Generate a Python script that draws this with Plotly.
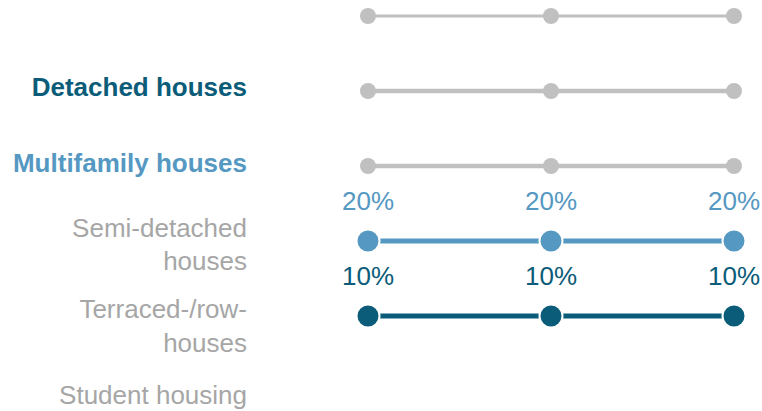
import plotly.graph_objects as go

# ---- data ----
periods = [0, 1, 2]
row_labels = ["", "Detached houses", "Multifamily houses",
              "Semi-detached<br>houses", "Terraced-/row-<br>houses", "Student housing"]
row_index = [0, 1, 2, 3, 4, 5]
gray_rows = [0, 1, 2]
semi_values = [20, 20, 20]
terraced_values = [10, 10, 10]

# ---- styles ----
GRAY = "#c0c0c0"
BLUE = "#5598c2"
DARK = "#0b5c79"
LABEL_GRAY = "#a6a6a6"
FONT = "Liberation Sans, Arial, sans-serif"

label_colors = ["#ffffff", DARK, BLUE, LABEL_GRAY, LABEL_GRAY, LABEL_GRAY]
label_bold = [False, True, True, False, False, False]
label_shift = [0, -0.05, -0.035, 0.045, 0.13, 0.05]  # visual offsets of the wrapped labels

ticktext = []
for lab, col, b in zip(row_labels, label_colors, label_bold):
    t = f"<b>{lab}</b>" if b else lab
    ticktext.append(f"<span style='color:{col}'>{t}</span>")

fig = go.Figure()

for i, r in enumerate(gray_rows):
    fig.add_trace(go.Scatter(
        x=periods, y=[row_index[r]] * len(periods), mode="lines+markers",
        line=dict(color=GRAY, width=3 if i == 0 else 4.5),
        marker=dict(color=GRAY, size=16),
        showlegend=False, hoverinfo="skip"))

annotations = []
for r, vals, col in [(3, semi_values, BLUE), (4, terraced_values, DARK)]:
    fig.add_trace(go.Scatter(
        x=periods, y=[row_index[r]] * len(periods), mode="lines+markers",
        line=dict(color=col, width=5),
        marker=dict(color=col, size=23, line=dict(color="white", width=2)),
        showlegend=False, hoverinfo="skip", cliponaxis=False))
    for xv, v in zip(periods, vals):
        annotations.append(dict(
            x=xv, y=row_index[r], xref="x", yref="y", text=f"{v}%",
            showarrow=False, yanchor="middle", xanchor="center", yshift=40,
            font=dict(color=col, size=26, family=FONT)))

fig.update_layout(
    width=762, height=411,
    margin=dict(l=258, r=0, t=0, b=0),
    paper_bgcolor="white", plot_bgcolor="white",
    font=dict(family=FONT, size=26, color=LABEL_GRAY),
    annotations=annotations,
    xaxis=dict(range=[-0.601, 2.153], visible=False, fixedrange=True),
    yaxis=dict(range=[5.267, -0.2133], tickvals=[ri + s for ri, s in zip(row_index, label_shift)],
               ticktext=ticktext, showgrid=False, zeroline=False, showline=False,
               ticks="", ticklabelstandoff=10, automargin=False, fixedrange=True,
               tickfont=dict(size=26, family=FONT)),
)

fig.write_html("out.html",
               config={"displayModeBar": False},
               post_script="document.body.style.margin='0';document.body.style.overflow='hidden';")
